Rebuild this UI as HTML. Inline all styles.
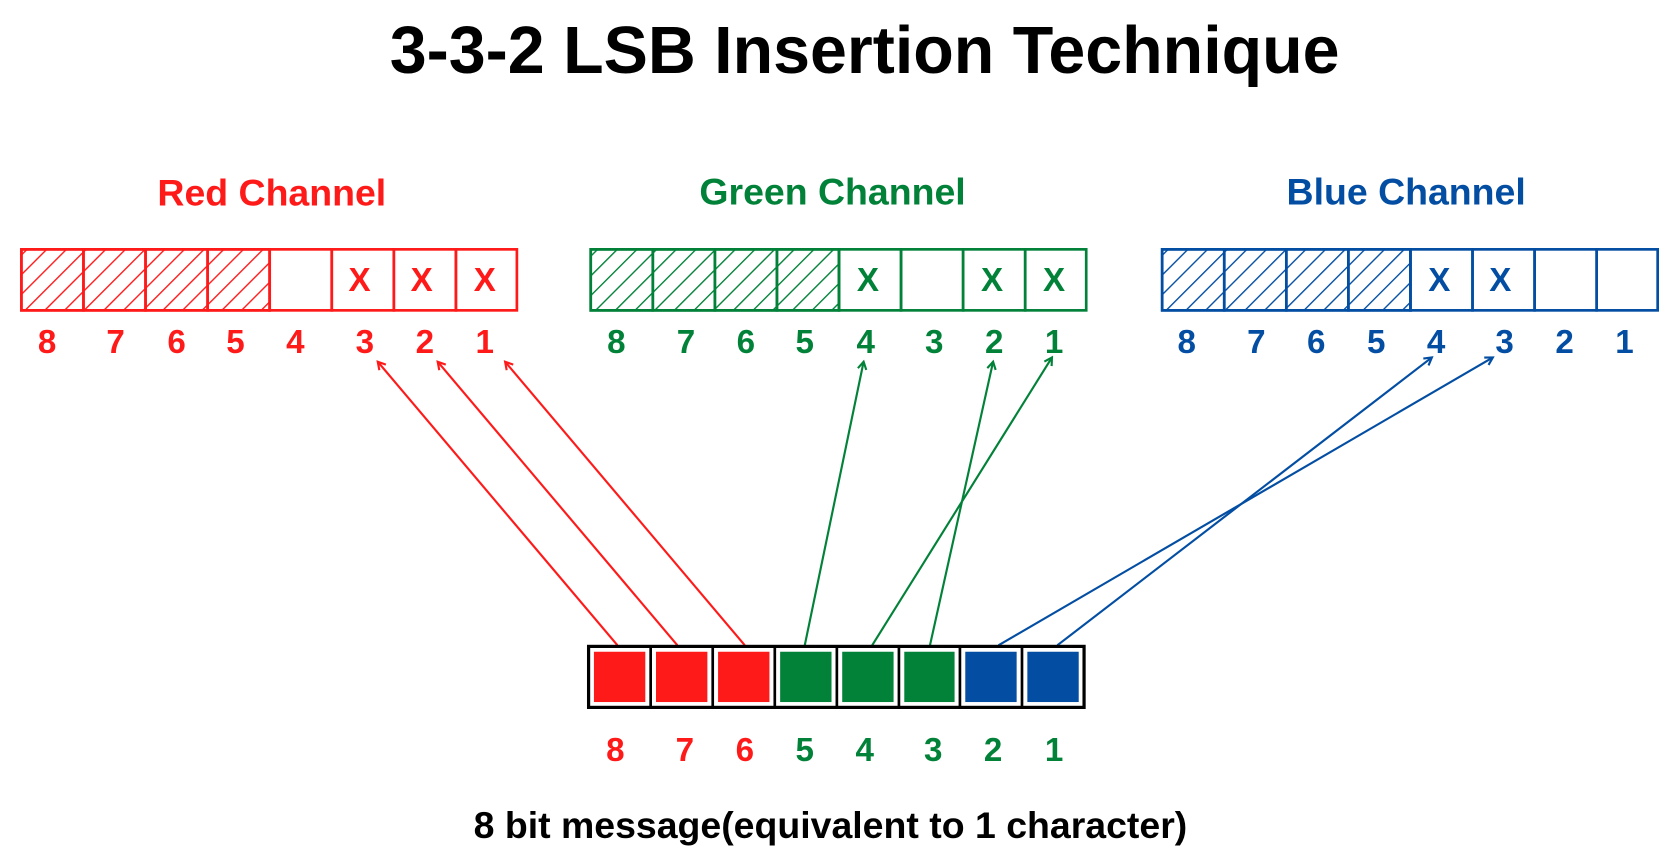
<!DOCTYPE html>
<html><head><meta charset="utf-8"><style>
html,body{margin:0;padding:0;background:#fff;width:1678px;height:860px;overflow:hidden}
svg{display:block}
text{font-family:"Liberation Sans",sans-serif;font-weight:bold}
</style></head><body>
<svg width="1678" height="860" viewBox="0 0 1568 803.6" preserveAspectRatio="none" xmlns="http://www.w3.org/2000/svg">
<defs>
<pattern id="hr" width="13" height="13" patternUnits="userSpaceOnUse" patternTransform="rotate(45)"><line x1="0" y1="0" x2="0" y2="13" stroke="#ff1a1a" stroke-width="2.6"/></pattern>
<pattern id="hg" width="13" height="13" patternUnits="userSpaceOnUse" patternTransform="rotate(45)"><line x1="0" y1="0" x2="0" y2="13" stroke="#028139" stroke-width="2.6"/></pattern>
<pattern id="hb" width="13" height="13" patternUnits="userSpaceOnUse" patternTransform="rotate(45)"><line x1="0" y1="0" x2="0" y2="13" stroke="#034ea2" stroke-width="2.6"/></pattern>
<marker id="ar" markerWidth="10" markerHeight="10" refX="8" refY="5" orient="auto" markerUnits="userSpaceOnUse"><path d="M1,1 L8,5 L1,9" fill="none" stroke="#ff1a1a" stroke-width="2"/></marker>
<marker id="ag" markerWidth="10" markerHeight="10" refX="8" refY="5" orient="auto" markerUnits="userSpaceOnUse"><path d="M1,1 L8,5 L1,9" fill="none" stroke="#028139" stroke-width="2"/></marker>
<marker id="ab" markerWidth="10" markerHeight="10" refX="8" refY="5" orient="auto" markerUnits="userSpaceOnUse"><path d="M1,1 L8,5 L1,9" fill="none" stroke="#034ea2" stroke-width="2"/></marker>
</defs>

<text x="808" y="68" font-size="62" text-anchor="middle" fill="#000">3-3-2 LSB Insertion Technique</text>

<text x="254" y="192" font-size="35" text-anchor="middle" fill="#ff1a1a">Red Channel</text>
<text x="778" y="191" font-size="35" text-anchor="middle" fill="#028139">Green Channel</text>
<text x="1314" y="191" font-size="35" text-anchor="middle" fill="#034ea2">Blue Channel</text>

<!-- Red -->
<g stroke="#ff1a1a" stroke-width="2.5" fill="none">
<rect x="20" y="233" width="232" height="57" fill="url(#hr)"/>
<rect x="20" y="233" width="58" height="57"/><rect x="78" y="233" width="58" height="57"/><rect x="136" y="233" width="58" height="57"/><rect x="194" y="233" width="58" height="57"/>
<rect x="252" y="233" width="58" height="57"/><rect x="310" y="233" width="58" height="57"/><rect x="368" y="233" width="58" height="57"/><rect x="426" y="233" width="57" height="57"/>
</g>
<g fill="#ff1a1a" font-size="31" text-anchor="middle">
<text x="336" y="272">X</text><text x="394" y="272">X</text><text x="453" y="272">X</text>
<text x="44" y="330">8</text><text x="108" y="330">7</text><text x="165" y="330">6</text><text x="220" y="330">5</text><text x="276" y="330">4</text><text x="341" y="330">3</text><text x="397" y="330">2</text><text x="453" y="330">1</text>
</g>

<!-- Green -->
<g stroke="#028139" stroke-width="2.5" fill="none">
<rect x="552" y="233" width="232" height="57" fill="url(#hg)"/>
<rect x="552" y="233" width="58" height="57"/><rect x="610" y="233" width="58" height="57"/><rect x="668" y="233" width="58" height="57"/><rect x="726" y="233" width="58" height="57"/>
<rect x="784" y="233" width="58" height="57"/><rect x="842" y="233" width="58" height="57"/><rect x="900" y="233" width="58" height="57"/><rect x="958" y="233" width="57" height="57"/>
</g>
<g fill="#028139" font-size="31" text-anchor="middle">
<text x="811" y="272">X</text><text x="927" y="272">X</text><text x="985" y="272">X</text>
<text x="576" y="330">8</text><text x="641" y="330">7</text><text x="697" y="330">6</text><text x="752" y="330">5</text><text x="809" y="330">4</text><text x="873" y="330">3</text><text x="929" y="330">2</text><text x="985" y="330">1</text>
</g>

<!-- Blue -->
<g stroke="#034ea2" stroke-width="2.5" fill="none">
<rect x="1086" y="233" width="232" height="57" fill="url(#hb)"/>
<rect x="1086" y="233" width="58" height="57"/><rect x="1144" y="233" width="58" height="57"/><rect x="1202" y="233" width="58" height="57"/><rect x="1260" y="233" width="58" height="57"/>
<rect x="1318" y="233" width="58" height="57"/><rect x="1376" y="233" width="58" height="57"/><rect x="1434" y="233" width="58" height="57"/><rect x="1492" y="233" width="57" height="57"/>
</g>
<g fill="#034ea2" font-size="31" text-anchor="middle">
<text x="1345" y="272">X</text><text x="1402" y="272">X</text>
<text x="1109" y="330">8</text><text x="1174" y="330">7</text><text x="1230" y="330">6</text><text x="1286" y="330">5</text><text x="1342" y="330">4</text><text x="1406" y="330">3</text><text x="1462" y="330">2</text><text x="1518" y="330">1</text>
</g>

<!-- Arrows -->
<g stroke-width="2" fill="none">
<line x1="577" y1="603" x2="353" y2="338" stroke="#ff1a1a" marker-end="url(#ar)"/>
<line x1="633" y1="603" x2="409" y2="338" stroke="#ff1a1a" marker-end="url(#ar)"/>
<line x1="696" y1="603" x2="472" y2="338" stroke="#ff1a1a" marker-end="url(#ar)"/>
<line x1="752" y1="603" x2="807" y2="338" stroke="#028139" marker-end="url(#ag)"/>
<line x1="815" y1="603" x2="983" y2="334" stroke="#028139" marker-end="url(#ag)"/>
<line x1="869" y1="603" x2="928" y2="338" stroke="#028139" marker-end="url(#ag)"/>
<line x1="933" y1="603" x2="1395" y2="334" stroke="#034ea2" marker-end="url(#ab)"/>
<line x1="988" y1="603" x2="1338" y2="334" stroke="#034ea2" marker-end="url(#ab)"/>
</g>

<!-- Message box -->
<rect x="550" y="604" width="463" height="57" fill="#fff" stroke="#000" stroke-width="3"/>
<g stroke="#000" stroke-width="2.5">
<line x1="608" y1="604" x2="608" y2="661"/><line x1="666" y1="604" x2="666" y2="661"/><line x1="724" y1="604" x2="724" y2="661"/><line x1="782" y1="604" x2="782" y2="661"/><line x1="840" y1="604" x2="840" y2="661"/><line x1="897" y1="604" x2="897" y2="661"/><line x1="955" y1="604" x2="955" y2="661"/>
</g>
<rect x="555" y="609" width="48" height="47" fill="#ff1a1a"/>
<rect x="613" y="609" width="48" height="47" fill="#ff1a1a"/>
<rect x="671" y="609" width="48" height="47" fill="#ff1a1a"/>
<rect x="729" y="609" width="48" height="47" fill="#028139"/>
<rect x="787" y="609" width="48" height="47" fill="#028139"/>
<rect x="845" y="609" width="47" height="47" fill="#028139"/>
<rect x="902" y="609" width="48" height="47" fill="#034ea2"/>
<rect x="960" y="609" width="48" height="47" fill="#034ea2"/>

<g font-size="31" text-anchor="middle">
<text x="575" y="711" fill="#ff1a1a">8</text><text x="640" y="711" fill="#ff1a1a">7</text><text x="696" y="711" fill="#ff1a1a">6</text>
<text x="752" y="711" fill="#028139">5</text><text x="808" y="711" fill="#028139">4</text><text x="872" y="711" fill="#028139">3</text><text x="928" y="711" fill="#028139">2</text><text x="985" y="711" fill="#028139">1</text>
</g>

<text x="776" y="783" font-size="35" text-anchor="middle" fill="#000">8 bit message(equivalent to 1 character)</text>
</svg>
</body></html>
